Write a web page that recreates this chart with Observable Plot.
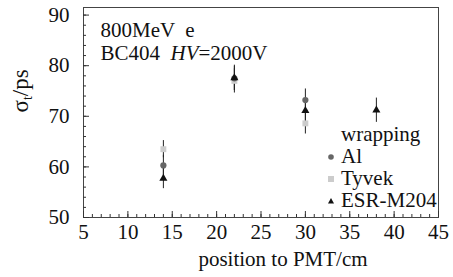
<!DOCTYPE html>
<html>
<head>
<meta charset="utf-8">
<script src="https://cdn.jsdelivr.net/npm/d3@7"></script>
<script src="https://cdn.jsdelivr.net/npm/@observablehq/plot@0.6"></script>
<style>
  html, body { margin: 0; padding: 0; background: #fff; }
  #wrap { position: relative; width: 453px; height: 277px; }
  #wrap, #wrap *, #wrap svg text, #wrap svg tspan { font-family: 'Liberation Serif' !important; }
  #legend { position: absolute; left: 324px; top: 123px; font-size: 21px; color: #111; line-height: 22px; }
  #legend .row { display: flex; align-items: center; height: 22px; }
  #legend svg { width: 14px; height: 14px; margin-right: 3px; }
</style>
</head>
<body>
<div id="wrap"></div>
<script>
// ---- data ----
const positions = [14, 22, 30, 38];
const seriesNames = ["Al", "Tyvek", "ESR-M204"];
const alSigma = [60.3, 77.5, 73.2, null];
const alErr = [2.0, 2.4, 2.2, null];
const tyvekSigma = [63.5, 77.0, 68.6, null];
const tyvekErr = [1.7, 2.4, 2.1, null];
const esrSigma = [57.7, 77.6, 71.1, 71.2];
const esrErr = [2.0, 2.5, 2.1, 2.4];
const xTicks = [5, 10, 15, 20, 25, 30, 35, 40, 45];
const yTicks = [50, 60, 70, 80, 90];
const legendTitle = "wrapping";
const note1 = "800MeV  e";
const note2 = "BC404  HV=2000V";
const xLabel = "position to PMT/cm";
const yLabel = "σt/ps";

const FONT = "'Liberation Serif'";
const seriesVals = [alSigma, tyvekSigma, esrSigma];
const seriesErrs = [alErr, tyvekErr, esrErr];
const colors = {"Al": "#666666", "Tyvek": "#cccccc", "ESR-M204": "#111111"};
const symbols = {"Al": "circle", "Tyvek": "square", "ESR-M204": "triangle"};
const sizes = {"Al": 2.8, "Tyvek": 3.2, "ESR-M204": 2.6};

const rows = [];
[1, 0, 2].forEach(si => {
  positions.forEach((p, i) => {
    const v = seriesVals[si][i];
    if (v == null) return;
    rows.push({series: seriesNames[si], x: p, y: v, lo: v - seriesErrs[si][i], hi: v + seriesErrs[si][i]});
  });
});

const W = 453, H = 277, mL = 83, mR = 15, mT = 7, mB = 60;
const innerW = W - mL - mR, innerH = H - mT - mB;
const xMinor = d3.range(5, 46, 1);
const yMinor = d3.range(50, 91, 2);

const chart = Plot.plot({
  width: W, height: H,
  marginLeft: mL, marginRight: mR, marginTop: mT, marginBottom: mB,
  style: {fontSize: "20px", color: "#111", background: "#fff", fontFamily: FONT},
  x: {domain: [5, 45]},
  y: {domain: [50, 91.5]},
  marks: [
    Plot.frame({stroke: "#444", strokeWidth: 1}),
    Plot.tickX(xMinor, {x: d => d, insetTop: innerH - 3, stroke: "#333"}),
    Plot.tickX(xTicks, {x: d => d, insetTop: innerH - 6, stroke: "#333"}),
    Plot.tickY(yMinor, {y: d => d, insetRight: innerW - 3, stroke: "#333"}),
    Plot.tickY(yTicks, {y: d => d, insetRight: innerW - 6, stroke: "#333"}),
    Plot.axisX({ticks: xTicks, tickSize: 0, tickPadding: 7, fontSize: 21, label: null}),
    Plot.axisY({ticks: yTicks, tickSize: 0, tickPadding: 14, fontSize: 21, label: null}),
    Plot.ruleX(rows, {x: "x", y1: "lo", y2: "hi", stroke: "#222", strokeWidth: 1}),
    Plot.dot(rows, {x: "x", y: "y", symbol: d => symbols[d.series], r: d => sizes[d.series], fill: d => colors[d.series], stroke: null}),
    Plot.text([note1], {frameAnchor: "top-left", dx: 17, dy: 15, textAnchor: "start", fontSize: 21, fill: "#111"}),
    Plot.text([note2], {frameAnchor: "top-left", dx: 17, dy: 38, textAnchor: "start", fontSize: 21, fill: "#111"}),
    Plot.text([xLabel], {frameAnchor: "bottom", dy: 48, dx: 22, fontSize: 21, fill: "#111"}),
    Plot.text([yLabel], {frameAnchor: "left", dx: -63, rotate: -90, fontSize: 23, fill: "#111"})
  ]
});
chart.setAttribute("font-family", "Liberation Serif");
chart.querySelectorAll("g").forEach(g => { if (g.hasAttribute("font-family")) g.setAttribute("font-family", "Liberation Serif"); });
chart.querySelectorAll("text").forEach(t => {
  if (t.textContent === note1 || t.textContent === note2) { t.style.whiteSpace = "pre"; }
  if (t.textContent === note2) {
    t.innerHTML = "";
    const s = d3.select(t);
    s.append("tspan").text("BC404  ");
    s.append("tspan").attr("font-style", "italic").text("HV");
    s.append("tspan").text("=2000V");
  }
  if (t.textContent === yLabel) {
    t.innerHTML = "";
    const s = d3.select(t);
    s.append("tspan").text("σ");
    s.append("tspan").attr("baseline-shift", "-25%").attr("font-size", "14px").text("t");
    s.append("tspan").text("/ps");
  }
});
const wrap = document.getElementById("wrap");
wrap.appendChild(chart);

// legend
const legend = document.createElement("div");
legend.id = "legend";
const title = document.createElement("div");
title.className = "row";
title.style.paddingLeft = "17px";
title.textContent = legendTitle;
legend.appendChild(title);
const symPaths = {
  circle: (c) => `<circle cx="7" cy="8" r="2.8" fill="${c}"/>`,
  square: (c) => `<rect x="4" y="5" width="6" height="6" fill="${c}"/>`,
  triangle: (c) => `<path d="M7,5 L10,10.5 L4,10.5 Z" fill="${c}"/>`
};
seriesNames.forEach(n => {
  const r = document.createElement("div");
  r.className = "row";
  r.innerHTML = `<svg viewBox="0 0 14 14">${symPaths[symbols[n]](colors[n])}</svg><span>${n}</span>`;
  legend.appendChild(r);
});
wrap.appendChild(legend);
wrap.querySelectorAll("*").forEach(el => el.style.setProperty("font-family", "'Liberation Serif'", "important"));
wrap.style.setProperty("font-family", "'Liberation Serif'", "important");
</script>
</body>
</html>
